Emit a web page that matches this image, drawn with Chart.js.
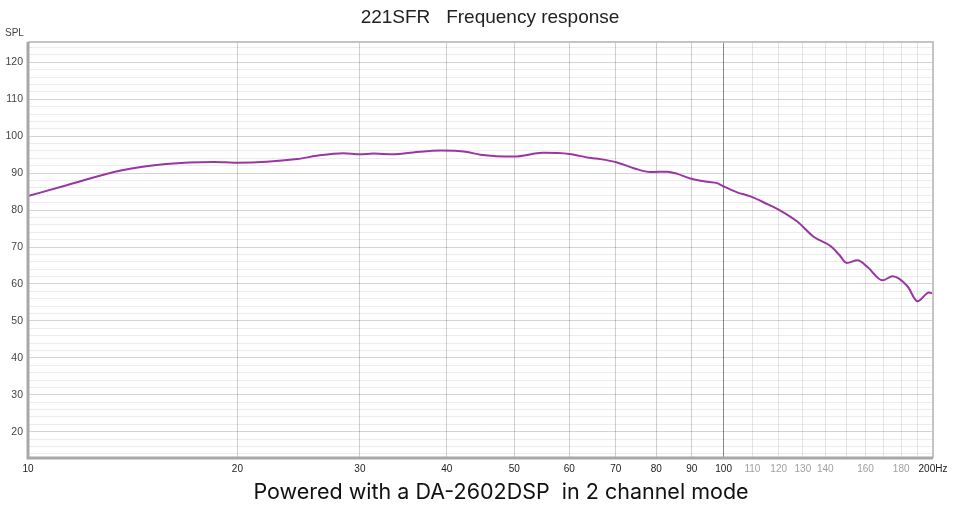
<!DOCTYPE html>
<html>
<head>
<meta charset="utf-8">
<script src="https://cdn.jsdelivr.net/npm/chart.js@4"></script>
<style>
  html, body { margin: 0; padding: 0; background: #fff; }
  #wrap { width: 954px; height: 510px; }
</style>
</head>
<body>
<div id="wrap"><canvas id="fr"></canvas></div>
<script>
// frequency (Hz) and SPL
const freqs = [10, 11.4, 13.6, 15.8, 18.5, 20, 24.4, 26, 28.4, 30, 31.4, 33.5, 35.8, 39.2, 42.8, 44.7,
  50, 55, 60, 64.4, 66.5, 70.3, 74.3, 78.5, 83, 85.8, 89.6, 94.8, 97.9, 100, 104.6, 109.3, 115.6,
  120.8, 127.6, 134.9, 142.6, 146.6, 150.3, 155.8, 161, 169.2, 175, 183.8, 190, 197.4, 200];
const spl = [83.8, 86.8, 90.7, 92.5, 93.05, 92.8, 93.8, 94.7, 95.4, 95.1, 95.3, 95.1, 95.6, 96.1, 95.7, 95.0,
  94.5, 95.5, 95.2, 94.1, 93.8, 92.9, 91.35, 90.3, 90.4, 89.8, 88.55, 87.65, 87.3, 86.4, 84.8, 83.7, 81.6,
  79.8, 76.9, 72.7, 70.2, 67.9, 65.7, 66.4, 64.6, 61.0, 62.1, 59.4, 55.3, 57.7, 57.4];

const xTicks = [10, 20, 30, 40, 50, 60, 70, 80, 90, 100, 110, 120, 130, 140, 150, 160, 170, 180, 190, 200];
const xHidden = [150, 170, 190];
const yTicks = [];
for (let v = 14; v <= 124; v += 2) yTicks.push(v);

const titleText = '221SFR   Frequency response';
const footText = 'Powered with a DA-2602DSP  in 2 channel mode';

const points = freqs.map((f, i) => ({ x: f, y: spl[i] }));

const plotFrame = {
  id: 'plotFrame',
  afterDatasetsDraw(chart) {
    const { ctx, chartArea: a } = chart;
    ctx.save();
    // top / right
    ctx.strokeStyle = '#c4c4c4';
    ctx.lineWidth = 2;
    ctx.beginPath();
    ctx.moveTo(a.left, a.top);
    ctx.lineTo(a.right, a.top);
    ctx.lineTo(a.right, a.bottom);
    ctx.stroke();
    // left / bottom darker
    ctx.strokeStyle = '#a8a8a8';
    ctx.lineWidth = 3;
    ctx.beginPath();
    ctx.moveTo(a.left, a.top);
    ctx.lineTo(a.left, a.bottom);
    ctx.lineTo(a.right, a.bottom);
    ctx.stroke();

    ctx.textBaseline = 'middle';
    ctx.fillStyle = '#444';
    ctx.font = '10px "Liberation Sans", Arial, sans-serif';
    ctx.textAlign = 'left';
    ctx.fillText('SPL', 5, 33);

    ctx.textAlign = 'center';
    ctx.fillStyle = '#222';
    ctx.font = '19px "Liberation Sans", Arial, sans-serif';
    ctx.fillText(titleText, 490, 18);

    ctx.fillStyle = '#111';
    ctx.font = '21.5px Inter, sans-serif';
    ctx.fillText(footText, 501, 493);
    ctx.restore();
  }
};

new Chart(document.getElementById('fr'), {
  type: 'line',
  data: {
    datasets: [{
      label: '221SFR',
      data: points,
      borderColor: '#9a35a3',
      borderWidth: 2,
      pointRadius: 0,
      tension: 0.4,
      cubicInterpolationMode: 'monotone'
    }]
  },
  plugins: [plotFrame],
  options: {
    responsive: true,
    maintainAspectRatio: false,
    animation: false,
    layout: { padding: { left: 0, right: 21, top: 42, bottom: 34 } },
    plugins: {
      legend: { display: false },
      tooltip: { enabled: false }
    },
    scales: {
      x: {
        type: 'logarithmic',
        min: 10,
        max: 200,
        afterBuildTicks: s => { s.ticks = xTicks.map(v => ({ value: v })); },
        afterFit: s => { s.height = 18; },
        border: { display: false },
        grid: {
          drawTicks: false,
          color: c => {
            const v = c.tick && c.tick.value;
            if (v === 100) return '#8a8a8a';
            if (v > 100) return '#e4e4e4';
            return '#cfcfcf';
          },
          lineWidth: 1
        },
        ticks: {
          autoSkip: false,
          maxRotation: 0,
          padding: 5,
          font: { family: '"Liberation Sans", Arial, sans-serif', size: 10 },
          color: c => (c.tick.value > 100 && c.tick.value < 200) ? '#a0a0a0' : '#222',
          callback: v => xHidden.includes(v) ? '' : (v === 200 ? '200Hz' : String(v))
        }
      },
      y: {
        min: 12.9,
        max: 125.5,
        afterBuildTicks: s => { s.ticks = yTicks.map(v => ({ value: v })); },
        afterFit: s => { s.width = 28; },
        border: { display: false },
        grid: {
          drawTicks: false,
          color: c => (c.tick && c.tick.value % 10 === 0) ? 'rgba(0,0,0,0.17)' : 'rgba(0,0,0,0.075)'
        },
        ticks: {
          autoSkip: false,
          padding: 5,
          font: { family: '"Liberation Sans", Arial, sans-serif', size: 10.5 },
          color: '#444',
          callback: v => v % 10 === 0 ? String(v) : ''
        }
      }
    }
  }
});
</script>
</body>
</html>
